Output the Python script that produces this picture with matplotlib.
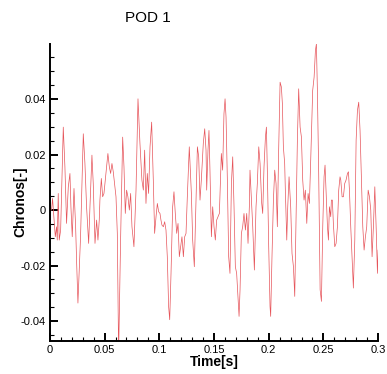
import numpy as np
import matplotlib
matplotlib.use("Agg")
import matplotlib.pyplot as plt
import matplotlib.ticker as ticker

plt.rcParams['font.family'] = ['Liberation Sans', 'DejaVu Sans']

# chronos of the first POD mode
time = [0.0, 0.0015, 0.0024, 0.0037, 0.0049, 0.0061, 0.0067, 0.0076, 0.0085, 0.0098,
        0.0122, 0.0137, 0.0152, 0.0168, 0.0183, 0.0192, 0.0204, 0.0220, 0.0235, 0.0244,
        0.0256, 0.0268, 0.0280, 0.0305, 0.0320, 0.0335, 0.0354, 0.0366, 0.0384, 0.0396,
        0.0412, 0.0427, 0.0439, 0.0451, 0.0457, 0.0470, 0.0482, 0.0494, 0.0506, 0.0518,
        0.0530, 0.0543, 0.0555, 0.0567, 0.0579, 0.0591, 0.0604, 0.0616, 0.0628, 0.0646,
        0.0665, 0.0677, 0.0689, 0.0701, 0.0713, 0.0726, 0.0738, 0.0750, 0.0768, 0.0787,
        0.0805, 0.0823, 0.0841, 0.0854, 0.0866, 0.0878, 0.0890, 0.0902, 0.0915, 0.0930,
        0.0945, 0.0957, 0.0970, 0.0982, 0.0994, 0.1006, 0.1015, 0.1024, 0.1037, 0.1049,
        0.1061, 0.1073, 0.1085, 0.1095, 0.1107, 0.1122, 0.1134, 0.1146, 0.1159, 0.1171,
        0.1183, 0.1195, 0.1207, 0.1220, 0.1232, 0.1244, 0.1256, 0.1274, 0.1293, 0.1305,
        0.1320, 0.1335, 0.1348, 0.1360, 0.1372, 0.1384, 0.1402, 0.1415, 0.1427, 0.1433,
        0.1445, 0.1454, 0.1463, 0.1476, 0.1488, 0.1500, 0.1512, 0.1524, 0.1537, 0.1549,
        0.1561, 0.1567, 0.1579, 0.1591, 0.1601, 0.1610, 0.1622, 0.1634, 0.1646, 0.1659,
        0.1671, 0.1683, 0.1695, 0.1707, 0.1720, 0.1729, 0.1738, 0.1750, 0.1762, 0.1774,
        0.1787, 0.1799, 0.1811, 0.1823, 0.1829, 0.1841, 0.1854, 0.1869, 0.1884, 0.1896,
        0.1909, 0.1921, 0.1936, 0.1945, 0.1957, 0.1970, 0.1979, 0.1988, 0.2000, 0.2012,
        0.2018, 0.2030, 0.2043, 0.2055, 0.2067, 0.2079, 0.2091, 0.2104, 0.2116, 0.2125,
        0.2134, 0.2146, 0.2152, 0.2165, 0.2174, 0.2186, 0.2201, 0.2213, 0.2226, 0.2238,
        0.2250, 0.2262, 0.2274, 0.2287, 0.2299, 0.2311, 0.2323, 0.2335, 0.2348, 0.2360,
        0.2372, 0.2384, 0.2402, 0.2415, 0.2427, 0.2436, 0.2445, 0.2457, 0.2470, 0.2482,
        0.2494, 0.2506, 0.2515, 0.2524, 0.2537, 0.2546, 0.2555, 0.2567, 0.2573, 0.2582,
        0.2591, 0.2604, 0.2616, 0.2628, 0.2640, 0.2652, 0.2659, 0.2671, 0.2683, 0.2695,
        0.2707, 0.2720, 0.2729, 0.2738, 0.2750, 0.2762, 0.2774, 0.2787, 0.2799, 0.2811,
        0.2823, 0.2835, 0.2848, 0.2860, 0.2872, 0.2884, 0.2896, 0.2909, 0.2921, 0.2933,
        0.2945, 0.2957, 0.2970, 0.2982, 0.2994, 0.3000]
chronos = [0.0, 0.0, 0.0042, -0.0030, -0.0096, -0.0060, -0.0108, 0.0060, -0.0108, -0.0072,
           0.0299, 0.0156, -0.0048, 0.0084, 0.0132, 0.0012, -0.0096, 0.0078, -0.0060, -0.0186,
           -0.0335, -0.0216, -0.0096, 0.0275, 0.0168, 0.0012, -0.0120, 0.0012, 0.0198, 0.0096,
           -0.0120, -0.0036, -0.0108, -0.0036, 0.0036, 0.0114, 0.0048, 0.0060, 0.0108, 0.0156,
           0.0204, 0.0156, 0.0132, 0.0168, 0.0138, 0.0096, 0.0048, -0.0084, -0.0520, -0.0108,
           0.0263, 0.0156, -0.0012, 0.0072, 0.0048, 0.0, 0.0060, -0.0060, -0.0132, 0.0072,
           0.0401, 0.0240, 0.0108, 0.0072, 0.0216, 0.0024, 0.0132, 0.0060, 0.0228, 0.0317,
           0.0108, -0.0084, -0.0024, 0.0024, -0.0006, -0.0012, -0.0036, -0.0054, -0.0060, -0.0042,
           -0.0072, -0.0168, -0.0347, -0.0395, -0.0228, 0.0012, 0.0066, -0.0012, -0.0084, -0.0048,
           -0.0168, -0.0132, -0.0096, -0.0168, -0.0096, -0.0084, 0.0048, 0.0228, 0.0060, -0.0108,
           -0.0204, 0.0036, 0.0228, 0.0192, 0.0036, 0.0108, 0.0240, 0.0293, 0.0216, 0.0072,
           0.0216, 0.0287, 0.0144, -0.0096, 0.0012, -0.0060, -0.0108, -0.0036, -0.0024, -0.0012,
           0.0132, 0.0204, 0.0144, 0.0347, 0.0401, 0.0335, 0.0108, -0.0168, -0.0228, 0.0096,
           0.0192, 0.0012, -0.0204, -0.0228, -0.0323, -0.0383, -0.0287, -0.0084, -0.0060, -0.0012,
           -0.0072, -0.0012, -0.0120, 0.0012, 0.0144, 0.0048, -0.0060, -0.0216, 0.0012, 0.0096,
           0.0228, 0.0168, 0.0024, -0.0012, 0.0156, 0.0263, 0.0299, 0.0132, -0.0132, -0.0347,
           -0.0383, -0.0168, 0.0036, 0.0144, 0.0096, -0.0060, 0.0216, 0.0461, 0.0443, 0.0383,
           0.0228, 0.0168, 0.0072, -0.0108, 0.0012, 0.0120, 0.0012, -0.0156, -0.0204, -0.0311,
           -0.0036, 0.0251, 0.0437, 0.0299, 0.0263, 0.0108, 0.0036, 0.0072, -0.0048, 0.0060,
           0.0024, 0.0180, 0.0431, 0.0479, 0.0575, 0.0599, 0.0431, 0.0132, -0.0287, -0.0329,
           -0.0060, 0.0120, 0.0162, 0.0072, -0.0060, -0.0108, 0.0012, -0.0024, 0.0036, 0.0036,
           -0.0048, -0.0132, -0.0120, -0.0060, 0.0072, 0.0120, 0.0108, 0.0048, 0.0048, 0.0096,
           0.0108, 0.0132, 0.0138, 0.0072, -0.0060, -0.0168, -0.0281, -0.0108, 0.0251, 0.0359,
           0.0389, 0.0287, 0.0108, -0.0060, -0.0144, -0.0096, -0.0060, 0.0072, 0.0048, 0.0,
           -0.0168, -0.0060, 0.0084, -0.0060, -0.0228, -0.0144]

fig = plt.figure(figsize=(3.87, 3.74), dpi=100)
ax = fig.add_axes([0.129, 0.088, 0.848, 0.794])

ax.plot(time, chronos, color='#e6545a', lw=0.5)

ax.set_xlim(0, 0.3)
ax.set_ylim(-0.0472, 0.0598)

ax.spines['top'].set_visible(False)
ax.spines['right'].set_visible(False)
for s in ['left', 'bottom']:
    ax.spines[s].set_linewidth(1.4)

ax.xaxis.set_major_locator(ticker.MultipleLocator(0.05))
ax.xaxis.set_minor_locator(ticker.MultipleLocator(0.01))
ax.yaxis.set_major_locator(ticker.FixedLocator([-0.04, -0.02, 0, 0.02, 0.04]))
ax.yaxis.set_minor_locator(ticker.MultipleLocator(0.005))
ax.xaxis.set_major_formatter(ticker.FuncFormatter(lambda v, p: '%g' % round(v, 3)))
ax.yaxis.set_major_formatter(ticker.FuncFormatter(lambda v, p: '%g' % round(v, 3)))

ax.tick_params(which='both', direction='in', top=False, right=False, labelsize=8)
ax.tick_params(which='major', length=6, width=1.4, pad=3)
ax.tick_params(which='minor', length=3, width=0.8)

ax.set_xlabel('Time[s]', fontsize=10, fontweight='bold', labelpad=0)
ax.set_ylabel('Chronos[-]', fontsize=10, fontweight='bold')
ax.yaxis.set_label_coords(-0.07, 0.47)

fig.text(0.383, 0.952, 'POD 1', fontsize=11, ha='center', va='center')

fig.savefig('out.png', dpi=100)
